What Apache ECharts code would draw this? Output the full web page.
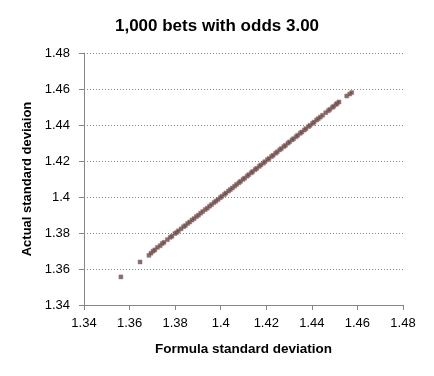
<!DOCTYPE html>
<html>
<head>
<meta charset="utf-8">
<script src="https://cdn.jsdelivr.net/npm/echarts@6/dist/echarts.min.js"></script>
<style>
  html, body { margin: 0; padding: 0; background: #fff; }
  #chart { width: 434px; height: 376px; }
</style>
</head>
<body>
<div id="chart"></div>
<script>
var chart = echarts.init(document.getElementById('chart'));

var titleText = '1,000 bets with odds 3.00';
var xName = 'Formula standard deviation';
var yName = 'Actual standard deviaion';
var labelFont = 'Liberation Sans';

// formula sd (x)
var formulaSd = [
  1.3562, 1.3646, 1.3685, 1.3694, 1.3703, 1.3711, 1.3722, 1.3734, 1.3743, 1.3751,
  1.3766, 1.3778, 1.3786, 1.3799, 1.3807, 1.3814, 1.3826, 1.3837, 1.3845, 1.3855,
  1.3864, 1.3874, 1.3883, 1.3893, 1.3902, 1.3912, 1.3921, 1.3932, 1.3941, 1.3951,
  1.3960, 1.3971, 1.3979, 1.3988, 1.3998, 1.4005, 1.4016, 1.4023, 1.4034, 1.4042,
  1.4051, 1.4061, 1.4070, 1.4080, 1.4087, 1.4098, 1.4105, 1.4116, 1.4123, 1.4134,
  1.4140, 1.4151, 1.4158, 1.4169, 1.4176, 1.4187, 1.4194, 1.4205, 1.4212, 1.4223,
  1.4230, 1.4241, 1.4248, 1.4259, 1.4266, 1.4277, 1.4284, 1.4295, 1.4302, 1.4313,
  1.4320, 1.4331, 1.4338, 1.4349, 1.4356, 1.4367, 1.4374, 1.4385, 1.4392, 1.4403,
  1.4410, 1.4421, 1.4428, 1.4437, 1.4447, 1.4461, 1.4472, 1.4479, 1.4490, 1.4496,
  1.4506, 1.4511, 1.4519, 1.4553, 1.4566, 1.4575
];
// actual sd (y)
var actualSd = [
  1.3556, 1.3639, 1.3676, 1.3688, 1.3699, 1.3706, 1.3720, 1.3729, 1.3741, 1.3748,
  1.3763, 1.3776, 1.3782, 1.3797, 1.3803, 1.3812, 1.3823, 1.3835, 1.3841, 1.3853,
  1.3861, 1.3872, 1.3880, 1.3891, 1.3899, 1.3910, 1.3919, 1.3930, 1.3938, 1.3949,
  1.3958, 1.3969, 1.3977, 1.3986, 1.3996, 1.4004, 1.4014, 1.4022, 1.4033, 1.4041,
  1.4050, 1.4060, 1.4070, 1.4079, 1.4087, 1.4098, 1.4105, 1.4116, 1.4124, 1.4134,
  1.4141, 1.4152, 1.4159, 1.4170, 1.4178, 1.4188, 1.4196, 1.4207, 1.4214, 1.4225,
  1.4232, 1.4243, 1.4251, 1.4262, 1.4269, 1.4280, 1.4287, 1.4299, 1.4306, 1.4317,
  1.4324, 1.4335, 1.4343, 1.4354, 1.4361, 1.4372, 1.4380, 1.4391, 1.4398, 1.4409,
  1.4416, 1.4428, 1.4435, 1.4444, 1.4454, 1.4468, 1.4479, 1.4487, 1.4498, 1.4504,
  1.4514, 1.4520, 1.4528, 1.4561, 1.4572, 1.4580
];

var points = [];
for (var i = 0; i < formulaSd.length; i++) {
  points.push([formulaSd[i], actualSd[i]]);
}

var axisColor = '#868686';

var option = {
  animation: false,
  title: {
    text: titleText,
    left: 'center',
    top: 13,
    textStyle: {
      fontFamily: labelFont,
      fontWeight: 'bold',
      fontSize: 17,
      color: '#000'
    }
  },
  grid: {
    left: 84,
    right: 31,
    top: 53,
    bottom: 71
  },
  xAxis: {
    type: 'value',
    min: 1.34,
    max: 1.48,
    interval: 0.02,
    name: xName,
    nameLocation: 'middle',
    nameGap: 37,
    nameTextStyle: {
      fontFamily: labelFont,
      fontWeight: 'bold',
      fontSize: 13.5,
      color: '#000'
    },
    axisLine: { show: true, lineStyle: { color: axisColor } },
    axisTick: { show: true, length: 5, inside: false, lineStyle: { color: axisColor } },
    axisLabel: {
      margin: 12,
      fontFamily: labelFont,
      fontSize: 13,
      color: '#000',
      formatter: function (v) { return +v.toFixed(2) + ''; }
    },
    splitLine: { show: false }
  },
  yAxis: {
    type: 'value',
    min: 1.34,
    max: 1.48,
    interval: 0.02,
    name: yName,
    nameLocation: 'middle',
    nameGap: 50,
    nameTextStyle: {
      fontFamily: labelFont,
      fontWeight: 'bold',
      fontSize: 13,
      color: '#000'
    },
    axisLine: { show: true, lineStyle: { color: axisColor } },
    axisTick: { show: true, length: 5, inside: false, lineStyle: { color: axisColor } },
    axisLabel: {
      margin: 14,
      fontFamily: labelFont,
      fontSize: 13,
      color: '#000',
      formatter: function (v) { return +v.toFixed(2) + ''; }
    },
    splitLine: {
      show: true,
      lineStyle: { color: axisColor, type: [1, 2], width: 1 }
    }
  },
  series: [
    {
      type: 'scatter',
      data: points,
      symbol: 'rect',
      symbolSize: 4,
      itemStyle: {
        color: '#555050',
        borderColor: '#b06666',
        borderWidth: 0.6
      }
    }
  ]
};

chart.setOption(option);
</script>
</body>
</html>
